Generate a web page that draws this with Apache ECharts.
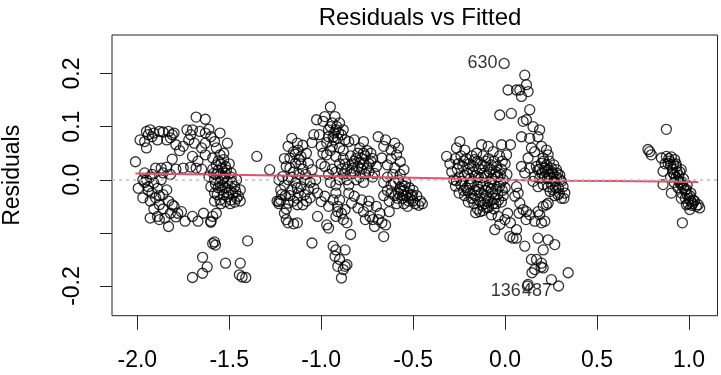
<!DOCTYPE html>
<html>
<head>
<meta charset="utf-8">
<script src="https://cdn.jsdelivr.net/npm/echarts@6/dist/echarts.min.js"></script>
<style>
  html, body { margin: 0; padding: 0; background: #fff; }
  #chart { width: 721px; height: 375px; }
</style>
</head>
<body>
<div id="chart"></div>
<script>
// axis ticks
const fitTicks = [-2, -1.5, -1, -0.5, 0, 0.5, 1];
const residTicks = [-0.2, -0.1, 0, 0.1, 0.2];
const residLabels = [-0.2, 0, 0.1, 0.2];

// fitted / residual pairs
const groupLeftRing = [
  [-2.01,0.034],
  [-1.985,0.075],[-1.95,0.091],[-1.95,0.060],[-1.93,0.094],[-1.92,0.081],[-1.94,0.085],[-1.91,0.088],[-1.88,0.091],
  [-1.89,0.075],[-1.86,0.090],[-1.83,0.091],[-1.82,0.079],[-1.80,0.088],[-1.84,0.075],[-1.81,0.085],[-1.96,0.072],
  [-1.68,0.118],[-1.63,0.114],[-1.73,0.094],[-1.70,0.094],[-1.66,0.091],[-1.63,0.088],[-1.60,0.081],[-1.55,0.088],
  [-1.51,0.069],[-1.79,0.066],[-1.75,0.063],[-1.72,0.075],[-1.69,0.069],[-1.63,0.069],[-1.58,0.072],[-1.70,0.044],
  [-1.63,0.047],[-1.77,0.055],[-1.71,0.085],[-1.61,0.095],[-1.65,0.060],[-1.57,0.060],[-1.67,0.035],
  [-1.90,0.022],[-1.87,0.022],[-1.84,0.024],[-1.81,0.039],[-1.79,0.020],[-1.75,0.022],[-1.71,0.024],[-1.68,0.022],
  [-1.65,0.020],[-1.86,0.013],[-1.82,0.010],[-1.93,0.005],
  [-1.96,0.013],[-1.995,-0.016],[-1.97,-0.034],[-1.95,0.000],[-1.94,-0.013],[-1.92,-0.025],[-1.91,-0.006],[-1.89,-0.016],
  [-1.90,-0.034],[-1.86,-0.028],[-1.84,-0.019],[-1.88,-0.047],[-1.81,-0.047],[-1.80,-0.050],[-1.78,-0.063],[-1.82,-0.063],
  [-1.76,-0.060],[-1.93,-0.040],[-1.97,0.000],[-1.91,-0.055],
  [-1.93,-0.072],[-1.89,-0.069],[-1.83,-0.088],[-1.88,-0.075],[-1.74,-0.078],[-1.70,-0.069],[-1.67,-0.078],[-1.64,-0.063],
  [-1.60,-0.078],[-1.59,-0.069],[-1.85,-0.072],[-1.79,-0.070],[-1.57,-0.063],[-1.60,-0.080],
  [-1.94,-0.020],[-1.92,0.010],[-1.96,-0.005],[-1.88,-0.030],[-1.86,-0.055],[-1.83,-0.040],[-1.87,0.000]
];

const groupLeftDense = [
  [-1.59,0.041],[-1.55,0.047],[-1.53,0.038],[-1.57,0.028],[-1.52,0.025],[-1.49,0.013],[-1.46,0.000],[-1.44,-0.019],
  [-1.45,-0.031],[-1.49,-0.038],[-1.52,-0.041],[-1.55,-0.038],[-1.58,-0.025],[-1.60,-0.013],[-1.61,0.006],[-1.55,0.009],
  [-1.53,0.003],[-1.51,-0.006],[-1.50,-0.019],[-1.54,-0.019],[-1.55,-0.006],[-1.47,-0.013],
  [-1.56,0.018],[-1.54,0.022],[-1.57,0.010],[-1.52,0.012],[-1.50,0.030],[-1.58,0.000],[-1.56,-0.015],[-1.53,-0.028],
  [-1.51,-0.032],[-1.48,-0.025],[-1.47,-0.042],[-1.44,-0.040],[-1.46,-0.035],[-1.56,0.035],[-1.53,0.050],[-1.59,0.020],
  [-1.52,-0.015],[-1.49,0.005],[-1.58,-0.040],[-1.54,0.000],
  [-1.545,0.030],[-1.515,0.018],[-1.535,-0.010],[-1.505,-0.025],[-1.565,-0.028],[-1.485,-0.005],[-1.525,0.005],
  [-1.575,-0.008],[-1.495,-0.045],[-1.545,-0.045],[-1.465,-0.022],[-1.585,0.012],
  [-1.70,-0.184],[-1.645,-0.176],[-1.62,-0.164],[-1.645,-0.146],[-1.59,-0.120],[-1.58,-0.117],[-1.575,-0.123],
  [-1.52,-0.157],[-1.40,-0.115],[-1.44,-0.157],[-1.445,-0.179],[-1.41,-0.184],[-1.43,-0.183],[-1.35,0.044]
];

const groupMidLeft = [
  [-1.16,0.078],[-1.13,0.069],[-1.18,0.063],[-1.15,0.053],[-1.125,0.056],[-1.11,0.044],[-1.17,0.041],[-1.14,0.031],
  [-1.19,0.025],[-1.21,0.006],[-1.23,0.000],[-1.22,-0.019],[-1.215,-0.028],[-1.23,-0.041],[-1.18,-0.044],[-1.13,-0.047],
  [-1.10,-0.047],[-1.09,-0.028],[-1.07,-0.019],[-1.11,-0.013],[-1.14,-0.006],[-1.18,0.000],[-1.16,-0.019],[-1.125,-0.025],
  [-1.09,0.000],[-1.05,0.019],[-1.07,0.031],[-1.04,-0.016],[-1.06,-0.034],
  [-1.15,0.015],[-1.12,0.010],[-1.10,0.020],[-1.17,-0.030],[-1.20,-0.010],[-1.13,-0.035],[-1.08,-0.040],[-1.12,0.038],
  [-1.14,0.048],[-1.20,0.040],[-1.10,0.065],[-1.08,0.050],[-1.03,0.000],[-1.06,-0.005],[-1.19,-0.055],[-1.24,-0.040],
  [-1.16,0.005],[-1.13,-0.015],[-1.15,-0.040],[-1.11,0.030],[-1.17,0.022],[-1.085,0.010],[-1.195,-0.030],
  [-1.28,0.019],[-1.22,-0.038],[-1.23,-0.045],[-1.20,-0.063],[-1.19,-0.075],[-1.18,-0.081],[-1.15,-0.083],[-1.13,-0.081],
  [-1.05,-0.119],[-1.02,-0.069],[-0.97,-0.085],[-0.96,-0.091]
];

const groupMidPeak = [
  [-0.95,0.137],[-0.98,0.119],[-0.925,0.119],[-1.025,0.113],[-0.99,0.110],[-0.94,0.107],[-0.90,0.107],[-0.96,0.094],
  [-0.92,0.094],[-0.88,0.094],[-1.01,0.085],[-0.96,0.081],[-0.91,0.078],[-0.87,0.075],[-1.00,0.063],[-0.94,0.063],
  [-0.90,0.060],[-0.97,0.047],[-0.92,0.044],[-0.85,0.072],[-0.82,0.075],[-0.77,0.072],
  [-0.93,0.088],[-0.95,0.100],[-0.89,0.085],[-0.97,0.070],[-0.93,0.075],[-1.04,0.085],[-1.05,0.070],[-0.99,0.050],
  [-0.95,0.055],[-0.88,0.055],[-0.915,0.100],[-0.905,0.088],[-0.935,0.080]
];

const groupMidCentre = [
  [-0.90,0.030],[-0.88,0.040],[-0.86,0.020],[-0.84,0.045],[-0.82,0.035],[-0.80,0.050],[-0.78,0.040],[-0.76,0.045],
  [-0.74,0.030],[-0.72,0.040],[-0.70,0.025],[-0.78,0.020],[-0.80,0.025],[-0.82,0.015],[-0.84,0.010],[-0.86,0.000],
  [-0.76,0.010],[-0.74,0.015],[-0.72,0.005],[-0.79,0.005],[-0.81,0.000],[-0.83,0.030],[-0.77,0.030],[-0.75,0.055],
  [-0.79,0.060],[-0.73,0.050],[-0.71,0.012],[-0.88,0.010],[-0.90,0.000],[-0.92,0.015],[-0.94,0.020],[-0.96,0.010],
  [-0.98,0.025],[-1.00,0.030],[-0.95,-0.005],[-0.92,-0.010],[-0.85,-0.010],[-0.77,-0.005],
  [-0.81,0.040],[-0.79,0.032],[-0.77,0.050],[-0.75,0.022],[-0.73,0.035],[-0.87,0.030],[-0.83,0.022],[-0.89,0.020],
  [-0.69,0.081],[-0.65,0.075],[-0.60,0.069],[-0.66,0.063],[-0.62,0.056],[-0.59,0.047],[-0.67,0.041],[-0.57,0.034],
  [-0.60,0.022],[-0.64,0.028],[-0.55,0.019],[-0.62,0.040],[-0.58,0.060]
];

const groupMidRight = [
  [-0.66,-0.005],[-0.64,0.005],[-0.62,-0.010],[-0.60,-0.005],[-0.58,0.000],[-0.56,-0.010],[-0.54,-0.005],[-0.52,-0.015],
  [-0.50,-0.020],[-0.48,-0.030],[-0.46,-0.040],[-0.47,-0.048],[-0.50,-0.040],[-0.52,-0.035],[-0.54,-0.030],[-0.56,-0.035],
  [-0.58,-0.025],[-0.60,-0.030],[-0.62,-0.025],[-0.64,-0.020],[-0.66,-0.030],[-0.63,-0.040],[-0.59,-0.045],[-0.55,-0.045],
  [-0.53,-0.050],[-0.57,-0.015],[-0.55,-0.020],[-0.53,-0.025],[-0.51,-0.030],[-0.49,-0.045],[-0.61,0.010],[-0.57,0.010],
  [-0.45,-0.045],[-0.565,-0.022],[-0.545,-0.012],[-0.525,-0.040],[-0.585,-0.035],[-0.505,-0.028],[-0.555,-0.030]
];

const groupMidLow = [
  [-1.02,-0.025],[-0.98,-0.031],[-1.00,-0.041],[-0.935,-0.038],[-0.91,-0.050],[-0.87,-0.056],[-0.835,-0.044],[-0.80,-0.053],
  [-0.77,-0.060],[-0.78,-0.038],[-0.745,-0.050],[-0.735,-0.069],[-0.72,-0.075],[-0.68,-0.063],[-0.67,-0.081],[-0.66,-0.107],
  [-0.71,-0.088],[-0.76,-0.075],[-0.82,-0.031],[-0.85,-0.025],[-0.92,-0.025],[-0.96,-0.050],[-0.90,-0.038],
  [-0.92,-0.069],[-0.88,-0.075],[-0.86,-0.081],[-0.89,-0.063],[-0.91,-0.060],[-0.84,-0.103],[-0.65,-0.085],[-0.69,-0.075],
  [-0.63,-0.060],[-0.70,-0.050],[-0.74,-0.040],
  [-0.935,-0.125],[-0.92,-0.132],[-0.87,-0.132],[-0.925,-0.144],[-0.90,-0.150],[-0.86,-0.160],[-0.91,-0.163],
  [-0.88,-0.169],[-0.89,-0.185],[-0.87,-0.163]
];

const groupZeroDense = [
  [-0.246,0.072],[-0.264,0.060],[-0.219,0.056],[-0.128,0.066],[-0.092,0.063],[-0.065,0.053],[-0.019,0.066],[0.008,0.047],
  [-0.155,0.050],[-0.318,0.044],
  [-0.30,0.030],[-0.27,0.040],[-0.24,0.045],[-0.21,0.040],[-0.18,0.045],[-0.15,0.035],[-0.12,0.045],[-0.09,0.040],
  [-0.06,0.035],[-0.03,0.045],[0.00,0.030],
  [-0.29,0.015],[-0.26,0.020],[-0.23,0.025],[-0.20,0.020],[-0.17,0.025],[-0.14,0.020],[-0.11,0.025],[-0.08,0.020],
  [-0.05,0.015],[-0.02,0.020],[0.01,0.010],
  [-0.28,0.000],[-0.25,0.005],[-0.22,0.008],[-0.19,0.002],[-0.16,0.008],[-0.13,0.004],[-0.10,0.008],[-0.07,0.002],
  [-0.04,0.006],[-0.01,0.000],
  [-0.27,-0.012],[-0.24,-0.010],[-0.21,-0.015],[-0.18,-0.008],[-0.15,-0.012],[-0.12,-0.010],[-0.09,-0.015],[-0.06,-0.010],
  [-0.03,-0.012],[0.00,-0.015],
  [-0.25,-0.025],[-0.22,-0.030],[-0.19,-0.025],[-0.16,-0.030],[-0.13,-0.025],[-0.10,-0.030],[-0.07,-0.025],[-0.04,-0.028],
  [-0.01,-0.030],
  [-0.20,-0.042],[-0.17,-0.045],[-0.14,-0.040],[-0.11,-0.045],[-0.08,-0.040],[-0.05,-0.045],[-0.02,-0.042],
  [-0.15,-0.055],[-0.12,-0.058],[-0.09,-0.052],[-0.06,-0.055],
  [-0.255,0.030],[-0.195,0.030],[-0.135,0.030],[-0.075,0.028],[-0.015,0.035],[-0.235,-0.003],[-0.175,0.015],[-0.115,0.012],
  [-0.055,0.010],[-0.205,-0.020],[-0.145,-0.018],[-0.085,-0.005],[-0.025,-0.005],[-0.115,-0.035],[-0.175,-0.035],[-0.055,-0.035],
  [-0.225,0.035],[-0.165,0.038],[-0.105,0.035],[-0.045,0.025],[-0.205,0.012],[-0.145,0.005],[-0.085,0.015],[-0.025,0.010],
  [-0.265,-0.002],[-0.195,-0.010],[-0.135,-0.005],[-0.075,-0.018],[-0.015,-0.020],[-0.225,-0.020],[-0.165,-0.020],
  [-0.105,-0.020],[-0.045,-0.018],[-0.185,-0.035],[-0.125,-0.048],[-0.065,-0.045],[-0.035,-0.038],[-0.095,-0.040],
  [-0.137,-0.060],[-0.101,-0.053],[-0.16,-0.062],
  [-0.038,-0.069],[-0.056,-0.094],[-0.001,-0.075],[0.029,-0.081],[0.043,-0.110],[0.062,-0.094],[-0.074,-0.066],[-0.029,-0.084],
  [0.076,-0.063],[0.014,-0.063],[0.114,-0.075],[0.026,-0.107]
];

const groupZeroSpike = [
  [0.016,0.169],[0.062,0.169],[-0.029,0.122],[0.034,0.125],[0.029,0.066],
  [0.107,0.197],[0.080,0.169],[0.116,0.179],[0.089,0.157],[0.125,0.166],[0.134,0.132],[0.116,0.113],[0.098,0.110],
  [0.152,0.100],[0.179,0.081],[0.089,0.081],[0.134,0.078],[0.188,0.094],
  [0.143,0.060],[0.161,0.053],[0.198,0.063],[0.225,0.056],[0.207,0.041],[0.234,0.047],[0.125,0.041],[0.089,0.025],
  [0.134,0.022],[0.107,0.013],[0.179,0.019]
];

const groupZeroRight = [
  [0.170,0.025],[0.198,0.031],[0.225,0.028],[0.252,0.022],[0.279,0.019],[0.297,0.009],[0.306,-0.003],[0.315,-0.013],
  [0.325,-0.025],[0.306,-0.035],[0.288,-0.028],[0.261,-0.019],[0.234,-0.013],[0.207,-0.009],[0.188,0.003],[0.216,0.006],
  [0.252,0.003],[0.270,-0.003],[0.234,0.019],[0.198,0.013],[0.161,0.006],[0.179,-0.013],[0.152,-0.003],
  [0.24,0.010],[0.26,0.012],[0.22,0.015],[0.28,0.005],[0.25,-0.008],[0.29,-0.015],[0.27,-0.030],[0.32,-0.035],
  [0.21,0.035],[0.19,0.020],[0.24,0.035],[0.30,0.000],
  [0.23,0.002],[0.255,0.015],[0.275,-0.015],[0.245,-0.022],[0.285,0.012],[0.215,0.022],[0.265,0.028],[0.295,-0.025],
  [0.062,-0.013],[0.071,-0.025],[0.053,-0.031],[0.080,-0.044],[0.098,-0.056],[0.116,-0.060],[0.134,-0.066],[0.161,-0.078],
  [0.179,-0.060],[0.207,-0.050],[0.225,-0.047],[0.234,-0.044],[0.188,-0.066],[0.198,-0.081],[0.216,-0.078],
  [0.062,-0.110],[0.107,-0.125],[0.179,-0.110],[0.234,-0.113],[0.270,-0.122],[0.207,-0.132],[0.143,-0.150],[0.171,-0.150],
  [0.198,-0.157],[0.161,-0.169],[0.207,-0.166],[0.252,-0.188],[0.343,-0.175],[0.125,-0.197],[0.146,-0.175],[0.196,-0.164]
];

const groupRight = [
  [0.877,0.095],[0.786,0.053],[0.777,0.057],[0.795,0.047],
  [0.850,0.041],[0.877,0.044],[0.904,0.043],[0.922,0.038],[0.886,0.031],[0.931,0.025],[0.958,0.019],[0.859,0.016],
  [0.913,0.013],
  [0.87,0.030],[0.89,0.040],[0.90,0.028],[0.91,0.020],[0.92,0.010],[0.93,0.005],[0.94,0.000],[0.95,-0.005],
  [0.96,-0.010],[0.97,-0.015],[0.98,-0.020],[0.99,-0.028],[1.00,-0.035],[1.01,-0.040],[1.02,-0.045],[1.03,-0.040],
  [1.04,-0.050],[0.92,-0.005],[0.94,-0.015],[0.96,-0.025],[0.98,-0.035],[0.995,-0.045],[0.90,0.005],[0.93,0.030],
  [0.95,0.015],[0.97,0.002],[0.99,-0.010],[1.01,-0.025],
  [0.895,0.035],[0.915,0.030],[0.935,0.015],[0.945,0.008],[0.965,-0.005],[0.985,-0.018],[1.005,-0.030],[1.015,-0.048],
  [0.859,-0.009],[0.904,-0.025],[0.958,-0.035],[0.986,-0.047],[1.004,-0.056],[1.050,-0.047],[1.058,-0.053],[1.022,-0.038],
  [0.964,-0.081]
];

// labelled observations
const idNames = ["630", "136", "487"];
const idPoints = [[-0.005, 0.219], [0.121, -0.200], [0.291, -0.200]];

// red smoother
const smoothX = [-2.01, -1.5, -1.0, -0.5, 0.0, 0.33, 0.85, 1.05];
const smoothY = [0.012, 0.0094, 0.0069, 0.0038, 0.0, -0.002, -0.003, -0.0044];

const font = "'Liberation Sans', Arial, Helvetica, sans-serif";

const allPoints = [].concat(
  groupLeftRing, groupLeftDense, groupMidLeft, groupMidPeak, groupMidCentre,
  groupMidRight, groupMidLow, groupZeroDense, groupZeroSpike, groupZeroRight, groupRight
);

const chart = echarts.init(document.getElementById("chart"), null, { renderer: "canvas" });

const circleStyle = {
  color: "rgba(0,0,0,0)",
  borderColor: "#000",
  borderWidth: 1.3,
};

const option = {
  animation: false,
  backgroundColor: "#fff",
  title: {
    text: "Residuals vs Fitted",
    left: 415,
    top: 1,
    textAlign: "center",
    textStyle: { fontFamily: font, fontSize: 24, fontWeight: "normal", color: "#000" },
  },
  grid: {
    left: 112,
    right: 3.5,
    top: 35,
    bottom: 59.3,
    show: true,
    borderColor: "#222",
    borderWidth: 1,
    outerBoundsMode: "none",
  },
  xAxis: {
    type: "value",
    min: -2.1375,
    max: 1.155,
    splitLine: { show: false },
    axisLine: { show: false, onZero: false },
    axisTick: { show: true, length: 14, customValues: fitTicks, lineStyle: { color: "#222", width: 1 } },
    axisLabel: {
      customValues: fitTicks,
      margin: 33,
      fontFamily: font,
      fontSize: 23,
      color: "#000",
      formatter: v => v.toFixed(1),
    },
  },
  yAxis: {
    type: "value",
    min: -0.2559,
    max: 0.2726,
    name: "Residuals",
    nameLocation: "middle",
    nameRotate: 90,
    nameGap: 88,
    nameTextStyle: { fontFamily: font, fontSize: 23, color: "#000" },
    splitLine: { show: false },
    axisLine: { show: false, onZero: false },
    axisTick: { show: true, length: 12, customValues: residTicks, lineStyle: { color: "#222", width: 1 } },
    axisLabel: {
      customValues: residLabels,
      rotate: 90,
      margin: 28,
      fontFamily: font,
      fontSize: 23,
      color: "#000",
      formatter: v => v.toFixed(1),
    },
  },
  series: [
    {
      name: "obs",
      type: "scatter",
      data: allPoints,
      symbol: "circle",
      symbolSize: 10,
      itemStyle: circleStyle,
      markLine: {
        silent: true,
        symbol: "none",
        label: { show: false },
        lineStyle: { color: "#bebebe", type: [3, 4], width: 1.5 },
        data: [{ yAxis: 0 }],
      },
    },
    {
      name: "ids",
      type: "scatter",
      data: idPoints.map((p, i) => ({
        value: p,
        label: i === 0 ? {} : { offset: [0, 5] },
      })),
      symbol: "circle",
      symbolSize: 10,
      itemStyle: circleStyle,
      label: {
        show: true,
        position: "left",
        distance: 1,
        fontFamily: font,
        fontSize: 18,
        color: "#000",
        formatter: p => idNames[p.dataIndex],
      },
    },
    {
      name: "smooth",
      type: "line",
      data: smoothX.map((x, i) => [x, smoothY[i]]),
      showSymbol: false,
      smooth: 0.3,
      lineStyle: { color: "#DF536B", width: 2 },
      z: 3,
    },
  ],
};

chart.setOption(option);
</script>
</body>
</html>
